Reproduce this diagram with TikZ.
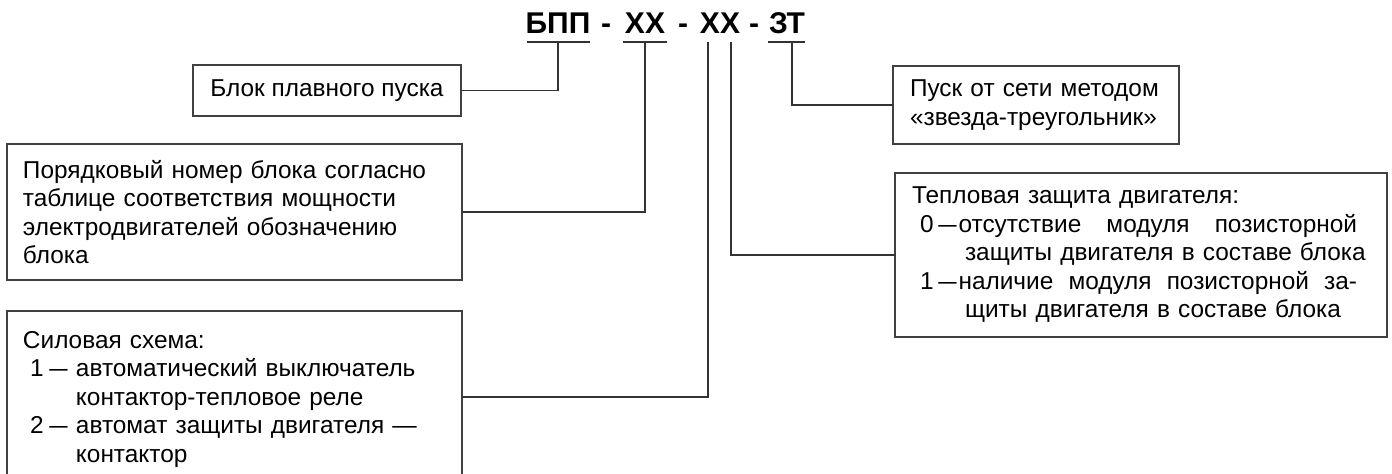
\documentclass[tikz,border=0pt]{standalone}
\usepackage{fontspec}
\setmainfont{Liberation Sans}
\newlength\px
\setlength\px{0.5pt}
\tikzset{
  lbl/.style={draw=black!75, line width=1.2\px, fill=white, inner sep=0pt, outer sep=0pt,
    font=\fontsize{12.2pt}{14.25pt}\selectfont, align=left},
  ttl/.style={font=\fontsize{15pt}{17pt}\selectfont\bfseries, inner sep=0pt},
  wire/.style={draw=black!80, line width=1.2\px},
}
\newcommand{\jline}[1]{\leavevmode\hbox to 445\px{#1}}
\newcommand{\dsh}{\makebox[18\px]{\scalebox{0.75}[1]{—}}}
\newcommand{\itm}[1]{\makebox[53\px][l]{\hspace*{7\px}#1\hspace{6\px}\dsh}}
\begin{document}
\begin{tikzpicture}[x=0.5pt,y=-0.5pt]
\useasboundingbox (0,0) rectangle (1392,474);
\clip (0,0) rectangle (1392,474);
% title
\node[ttl, anchor=base] (p1) at (558,34) {БПП};
\node[ttl, anchor=base] (d1) at (606,34) {-};
\node[ttl, anchor=base] (p2) at (645,34) {XX};
\node[ttl, anchor=base] (d2) at (683,34) {-};
\node[ttl, anchor=base] (p3) at (720,34) {XX};
\node[ttl, anchor=base] (d3) at (754,34) {-};
\node[ttl, anchor=base] (p4) at (787,34) {ЗТ};
\coordinate (t1) at (558,42);
\coordinate (t2) at (645,42);
\coordinate (t3) at (708,42);
\coordinate (t4) at (731,42);
\coordinate (t5) at (792,42);
\coordinate (u1a) at (527,42); \coordinate (u1b) at (590,42);
\coordinate (u2a) at (623,42); \coordinate (u2b) at (667,42);
\coordinate (u5a) at (768,42); \coordinate (u5b) at (805,42);
\draw[wire] (u1a) -- (u1b);
\draw[wire] (u2a) -- (u2b);
\draw[wire] (u5a) -- (u5b);
% boxes
\node[lbl, anchor=north west, minimum width=268\px, minimum height=51\px, align=center] (b1) at (193,65) {Блок плавного пуска};
\node[lbl, anchor=north west, minimum width=455\px, minimum height=136\px, text width=423\px, inner xsep=16\px] (b2) at (7,144)
 {Порядковый номер блока согласно\\таблице соответствия мощности\\электродвигателей обозначению\\блока};
\node[lbl, anchor=north west, minimum width=455\px, minimum height=177\px, text width=423\px, inner xsep=16\px] (b3) at (7,311)
 {Силовая схема:\\
  \itm{1}автоматический выключатель\\
  \hspace*{53\px}контактор-тепловое реле\\
  \itm{2}автомат защиты двигателя —\\
  \hspace*{53\px}контактор};
\node[lbl, anchor=north west, minimum width=286\px, minimum height=78\px, text width=252\px, inner xsep=17\px] (b4) at (893,66)
 {Пуск от сети методом\\«звезда-треугольник»};
\node[lbl, anchor=north west, minimum width=492\px, minimum height=164\px, text width=458\px, inner xsep=17\px] (b5) at (895,173)
 {Тепловая защита двигателя:\\
  \jline{\hspace*{8\px}0\hspace{5\px}\dsh\hspace{2\px}отсутствие\hfill модуля\hfill позисторной}\\
  \jline{\hspace*{53\px}защиты двигателя в составе блока\hfil}\\
  \jline{\hspace*{8\px}1\hspace{5\px}\dsh\hspace{2\px}наличие\hfill модуля\hfill позисторной\hfill за-}\\
  \jline{\hspace*{53\px}щиты двигателя в составе блока\hfil}};
% connectors
\coordinate (c3) at (462,397);
\draw[wire] (b1.east) -| (t1);
\draw[wire] (b2.east) -| (t2);
\draw[wire] (c3) -| (t3);
\draw[wire] (b5.west) -| (t4);
\draw[wire] (b4.west) -| (t5);
\end{tikzpicture}
\end{document}
